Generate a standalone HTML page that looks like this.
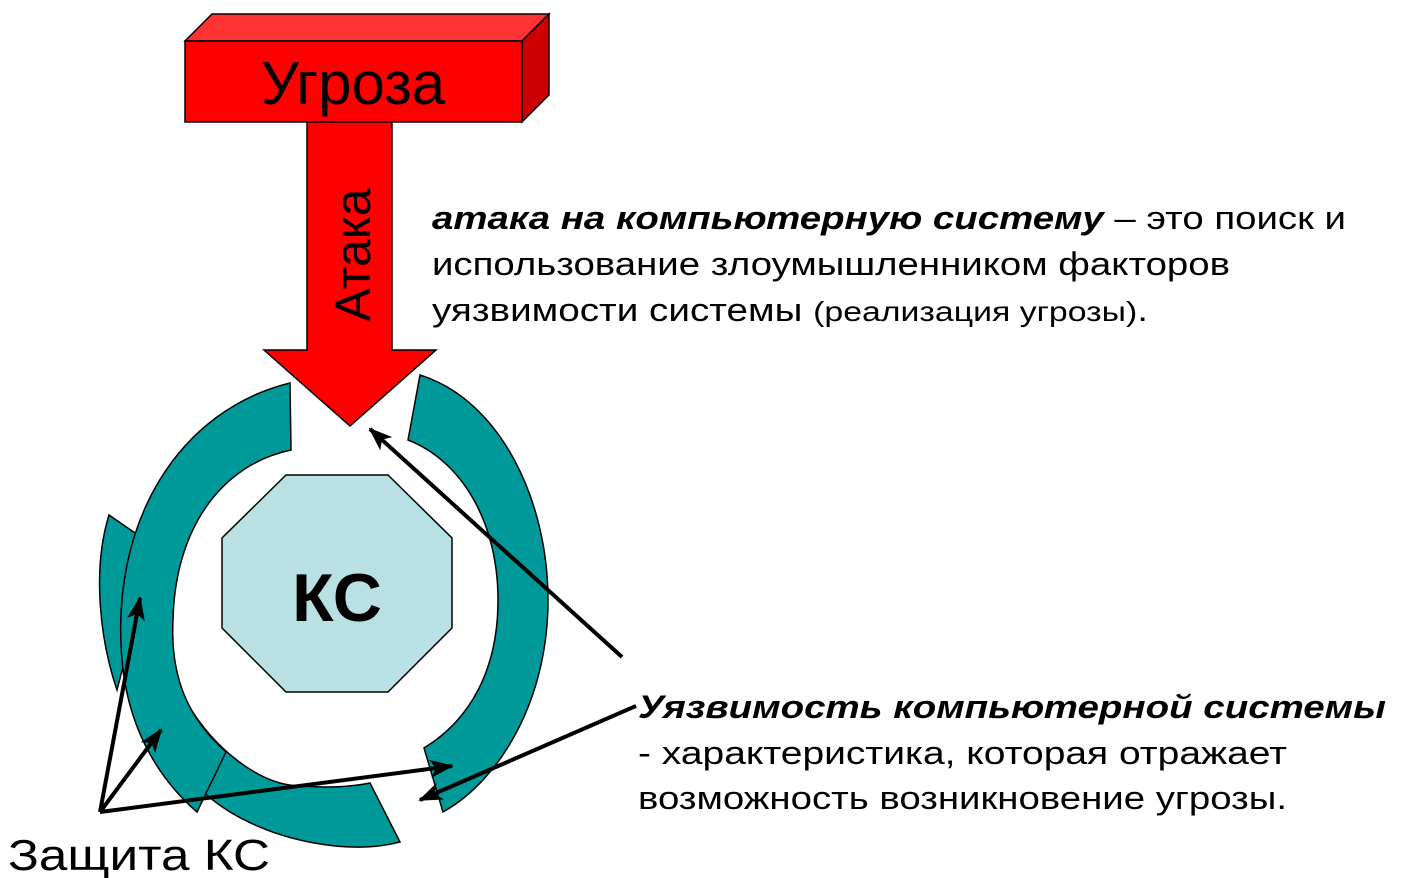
<!DOCTYPE html>
<html><head><meta charset="utf-8"><style>
html,body{margin:0;padding:0;background:#fff;width:1402px;height:878px;overflow:hidden}
svg{display:block}
text{font-family:"Liberation Sans",sans-serif;fill:#000}
</style></head><body>
<svg width="1402" height="878" viewBox="0 0 1402 878" xmlns="http://www.w3.org/2000/svg">
<defs>
<marker id="a2" viewBox="0 0 24 18" markerWidth="24" markerHeight="18" refX="22" refY="9" orient="auto" markerUnits="userSpaceOnUse"><path d="M0,0 L24,9 L0,18 L6,9 Z" fill="#000"/></marker></defs>
<g stroke="#000" stroke-width="1.5">
<path d="M109,515 L138,535 L130,640 L117,690 C100,640 92,570 109,515 Z" fill="#009999"/>
<path d="M370,783 L400,842 C350,855 280,842 230,812 C190,787 165,752 150,722 L187,703 C215,750 260,785 300,786 C330,788 350,787 370,783 Z" fill="#009999"/>
<path d="M290,383 C180,410 110,520 122,660 C128,730 160,780 197,812 L226,752 C190,720 170,680 173,620 C175,530 220,465 291,450 Z" fill="#009999"/>
<path d="M420,375 C500,400 548,500 548,600 C548,700 500,780 443,812 L424,748 C470,720 498,670 498,600 C498,520 460,460 408,440 Z" fill="#009999"/>
<polygon points="286,475 388,475 452,538 452,628 388,692 286,692 222,628 222,538" fill="#b9e0e2"/>
<polygon points="185,41 212,14 549,14 522,41" fill="#ff3333"/>
<polygon points="522,41 549,14 549,95 522,122" fill="#cc0000"/>
<rect x="185" y="41" width="337" height="81" fill="#ff0000"/>
<polygon points="307,122 392,122 392,350 436,350 350,426 264,350 307,350" fill="#ff0000"/>
</g>
<text x="353" y="104" font-size="60" text-anchor="middle">Угроза</text>
<text transform="translate(370,255) rotate(-90)" font-size="50" text-anchor="middle">Атака</text>
<text x="337" y="621" font-size="68" font-weight="bold" text-anchor="middle">КС</text>
<g stroke="#000" stroke-width="4" fill="none">
<line x1="622" y1="657" x2="370" y2="429" marker-end="url(#a2)"/>
<line x1="636" y1="706" x2="420" y2="800" marker-end="url(#a2)"/>
<line x1="100" y1="812" x2="140" y2="598" marker-end="url(#a2)"/>
<line x1="100" y1="812" x2="161" y2="730" marker-end="url(#a2)"/>
<line x1="100" y1="812" x2="452" y2="766" marker-end="url(#a2)"/>
</g>
<text x="432" y="229" font-size="32" textLength="914" lengthAdjust="spacingAndGlyphs"><tspan font-weight="bold" font-style="italic">атака на компьютерную систему</tspan> – это поиск и</text>
<text x="432" y="275" font-size="32" textLength="798" lengthAdjust="spacingAndGlyphs">использование злоумышленником факторов</text>
<text x="432" y="321" font-size="32" textLength="716" lengthAdjust="spacingAndGlyphs">уязвимости системы <tspan font-size="28">(реализация угрозы)</tspan>.</text>
<text x="638" y="718" font-size="32" font-weight="bold" font-style="italic" textLength="748" lengthAdjust="spacingAndGlyphs">Уязвимость компьютерной системы</text>
<text x="638" y="764" font-size="32" textLength="649" lengthAdjust="spacingAndGlyphs">-  характеристика, которая отражает</text>
<text x="638" y="809" font-size="32" textLength="649" lengthAdjust="spacingAndGlyphs">возможность возникновение угрозы.</text>
<text x="8" y="870" font-size="44" textLength="262" lengthAdjust="spacingAndGlyphs">Защита КС</text>
</svg>
</body></html>
